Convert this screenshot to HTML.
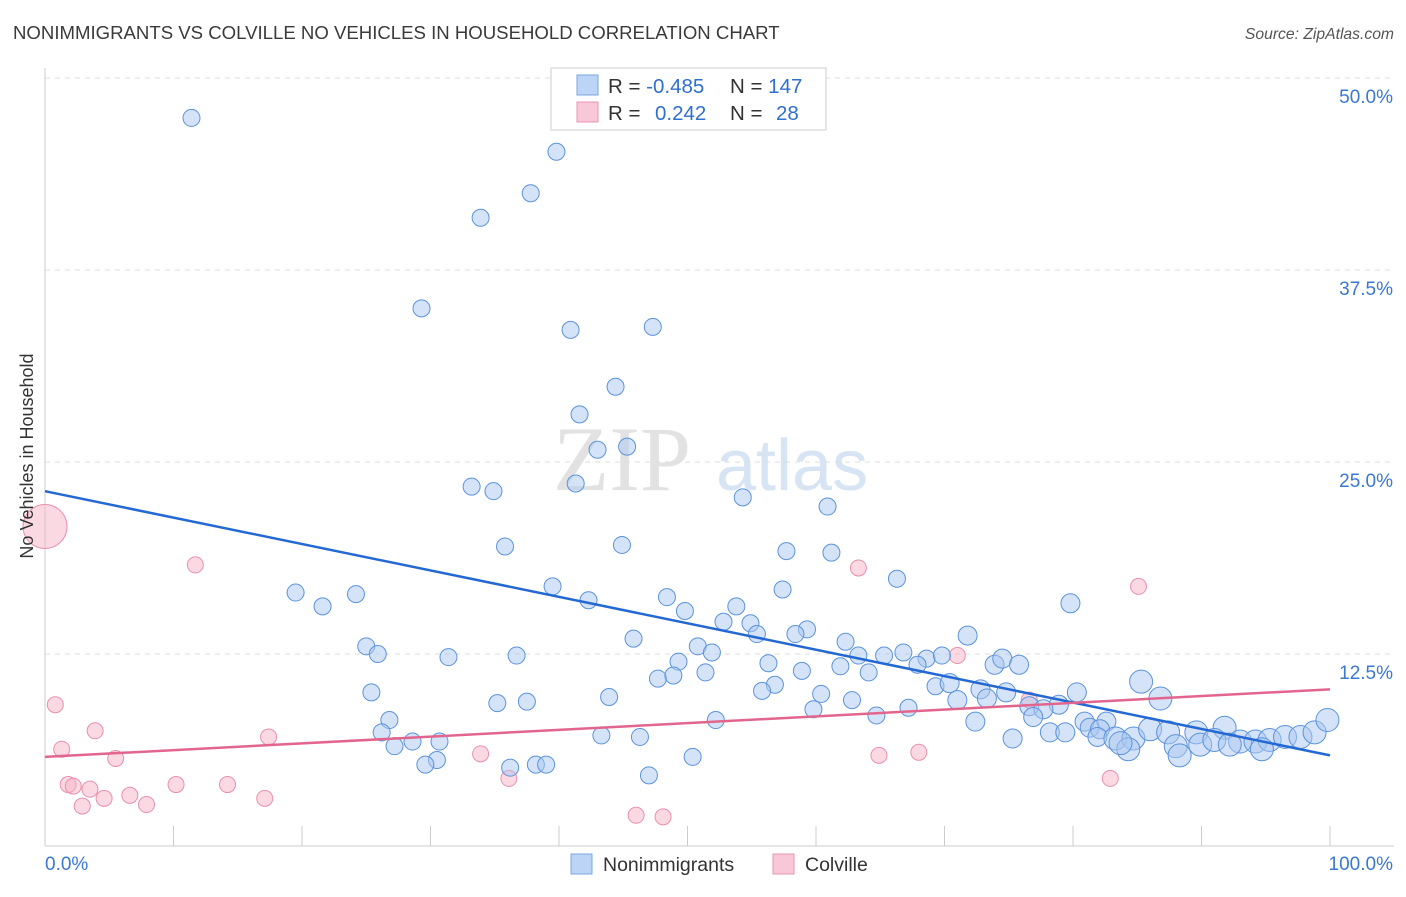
<!DOCTYPE html>
<html><head><meta charset="utf-8">
<style>
html,body{margin:0;padding:0;background:#fff;}
body{width:1406px;height:892px;overflow:hidden;font-family:"Liberation Sans",sans-serif;}
</style></head>
<body>
<svg id="chart" width="1406" height="892" xmlns="http://www.w3.org/2000/svg" font-family="Liberation Sans, sans-serif">
<text x="13" y="39" font-size="18.6" fill="#3a3a3a">NONIMMIGRANTS VS COLVILLE NO VEHICLES IN HOUSEHOLD CORRELATION CHART</text>
<text x="1394" y="39" font-size="15.7" fill="#555" font-style="italic" text-anchor="end">Source: ZipAtlas.com</text>
<g>
<text x="553" y="490" font-size="92" fill="#e2e2e2" font-family="Liberation Serif, serif">ZIP</text>
<text x="716" y="490" font-size="72" fill="#d6e4f4">atlas</text>
</g>
<g id="grid"></g>
<g id="axes"></g>
<g id="pts"></g>
<g id="lines"></g>
<text transform="translate(33,456) rotate(-90)" font-size="18" fill="#333" text-anchor="middle">No Vehicles in Household</text>
<g>
<rect x="551" y="68" width="275" height="62" fill="#fff" stroke="#ddd" stroke-width="1.5"/>
<rect x="577" y="75" width="21" height="20" fill="#bcd4f5" stroke="#7aa6e0"/>
<rect x="577" y="102" width="21" height="20" fill="#f8c8d8" stroke="#e896b0"/>
<text x="608" y="93" font-size="20.5" fill="#333">R = <tspan fill="#2f6fd0">-0.485</tspan></text>
<text x="730" y="93" font-size="20.5" fill="#333">N = <tspan fill="#2f6fd0">147</tspan></text>
<text x="608" y="120" font-size="20.5" fill="#333">R = <tspan fill="#2f6fd0" x="655">0.242</tspan></text>
<text x="730" y="120" font-size="20.5" fill="#333">N = <tspan fill="#2f6fd0" x="776">28</tspan></text>
</g>
<g>
<rect x="571" y="854" width="21" height="20" fill="#bcd4f5" stroke="#7aa6e0"/>
<text x="603" y="871" font-size="19.5" fill="#333">Nonimmigrants</text>
<rect x="773" y="854" width="21" height="20" fill="#f8c8d8" stroke="#e896b0"/>
<text x="805" y="871" font-size="19.5" fill="#333">Colville</text>
</g>
</svg>
<script>
const xTickLabels=["0.0%","100.0%"];
const yTicks=[12.5,25,37.5,50];
const yTickLabels=["12.5%","25.0%","37.5%","50.0%"];
const blueX=[11.4,39.8,37.8,33.9,29.3,40.9,47.3,44.4,41.6,43.0,45.3,33.2,34.9,41.3,54.3,60.9,35.8,44.9,57.7,61.2,39.5,66.3,19.5,24.2,21.6,42.3,48.4,57.4,49.8,53.8,79.8,52.8,54.9,59.3,58.4,55.4,45.8,71.8,25.0,25.9,31.4,36.7,50.8,51.9,62.3,63.3,65.3,66.8,68.6,69.8,67.9,73.9,74.5,75.8,49.3,56.3,61.9,64.1,58.9,47.7,48.9,51.4,69.3,70.4,56.8,55.8,60.4,62.8,80.3,85.3,86.8,72.8,74.8,71.0,73.3,25.4,43.9,35.2,37.5,78.9,76.6,77.7,76.9,67.2,59.8,64.7,26.8,52.2,72.4,80.9,82.6,81.3,82.1,26.2,78.2,79.4,81.9,83.3,84.7,86.0,87.4,89.6,91.8,89.9,91.0,93.0,94.2,95.3,96.5,97.7,98.8,99.8,88.0,88.3,92.2,94.7,84.3,75.3,83.7,28.6,30.7,27.2,43.3,46.3,50.4,30.5,29.6,36.2,38.2,39.0,47.0];
const blueY=[47.4,45.2,42.5,40.9,35.0,33.6,33.8,29.9,28.1,25.8,26.0,23.4,23.1,23.6,22.7,22.1,19.5,19.6,19.2,19.1,16.9,17.4,16.5,16.4,15.6,16.0,16.2,16.7,15.3,15.6,15.8,14.6,14.5,14.1,13.8,13.8,13.5,13.7,13.0,12.5,12.3,12.4,13.0,12.6,13.3,12.4,12.4,12.6,12.2,12.4,11.8,11.8,12.2,11.8,12.0,11.9,11.7,11.3,11.4,10.9,11.1,11.3,10.4,10.6,10.5,10.1,9.9,9.5,10.0,10.7,9.6,10.2,10.0,9.5,9.6,10.0,9.7,9.3,9.4,9.2,9.1,8.9,8.4,9.0,8.9,8.5,8.2,8.2,8.1,8.1,8.1,7.7,7.6,7.4,7.4,7.4,7.1,7.0,7.0,7.6,7.4,7.4,7.7,6.6,6.9,6.8,6.8,6.9,7.1,7.1,7.4,8.2,6.5,5.9,6.6,6.3,6.3,7.0,6.7,6.8,6.8,6.5,7.2,7.1,5.8,5.6,5.3,5.1,5.3,5.3,4.6];
const pinkX=[0,0.8,1.3,3.9,5.5,1.8,2.2,2.9,3.5,4.6,6.6,7.9,10.2,11.7,14.2,17.1,17.4,33.9,36.1,46.0,48.1,63.3,64.9,68.0,71.0,76.6,82.9,85.1];
const pinkY=[20.8,9.2,6.3,7.5,5.7,4.0,3.9,2.6,3.7,3.1,3.3,2.7,4.0,18.3,4.0,3.1,7.1,6.0,4.4,2.0,1.9,18.1,5.9,6.1,12.4,9.5,4.4,16.9];
const blueTrend=[23.1,5.9];
const pinkTrend=[5.8,10.2];

const X0=45,X1=1330,Y0=846,Y50=78;
const sx=v=>X0+(X1-X0)*v/100;
const sy=v=>Y0-(Y0-Y50)*v/50;
const NS="http://www.w3.org/2000/svg";
function mk(tag,attrs,parent){const e=document.createElementNS(NS,tag);for(const k in attrs)e.setAttribute(k,attrs[k]);parent.appendChild(e);return e;}
const grid=document.getElementById('grid'),axes=document.getElementById('axes'),pts=document.getElementById('pts'),lines=document.getElementById('lines');
yTicks.forEach((t,i)=>{
  const g=mk('line',{x1:X0,x2:1394,y1:sy(t),y2:sy(t),stroke:'#ddd','stroke-dasharray':'5,5'},grid);
  
  
  const l=mk('text',{x:1393,y:sy(t)+25,'font-size':19,fill:'#3a78d4','text-anchor':'end'},axes);
  l.textContent=yTickLabels[i];
  
  
});
const yax=mk('line',{x1:X0,x2:X0,y1:68,y2:Y0,stroke:'#ccc'},axes);


const xax=mk('line',{x1:X0,x2:1394,y1:Y0,y2:Y0,stroke:'#ccc'},axes);


for(let i=0;i<=10;i++){
  const t=mk('line',{x1:sx(i*10),x2:sx(i*10),y1:826,y2:Y0,stroke:'#ccc'},axes);
  
  
}
[[0,'start',45],[100,'end',1393]].forEach((d,i)=>{
  const l=mk('text',{x:d[2],y:870,'font-size':19,fill:'#3a78d4','text-anchor':d[1]},axes);
  l.textContent=xTickLabels[i];
  
  
});
pinkX.forEach((x,i)=>{
  const r=i===0?22:8;
  const c=mk('circle',{cx:sx(x),cy:sy(pinkY[i]),r:r,fill:'rgba(246,180,200,0.5)',stroke:'#e98fae','stroke-width':1},pts);
  
  
});
blueX.forEach((x,i)=>{
  const r=x>83?11.5:(x>70?9.5:8.5);
  const c=mk('circle',{cx:sx(x),cy:sy(blueY[i]),r:r,fill:'rgba(170,200,240,0.5)',stroke:'#5b93dc','stroke-width':1},pts);
  
  
});
const bl=mk('line',{x1:sx(0),y1:sy(blueTrend[0]),x2:sx(100),y2:sy(blueTrend[1]),stroke:'#2468d4','stroke-width':2.5},lines);


const pl=mk('line',{x1:sx(0),y1:sy(pinkTrend[0]),x2:sx(100),y2:sy(pinkTrend[1]),stroke:'#e2658e','stroke-width':2.5},lines);


</script>
</body></html>
